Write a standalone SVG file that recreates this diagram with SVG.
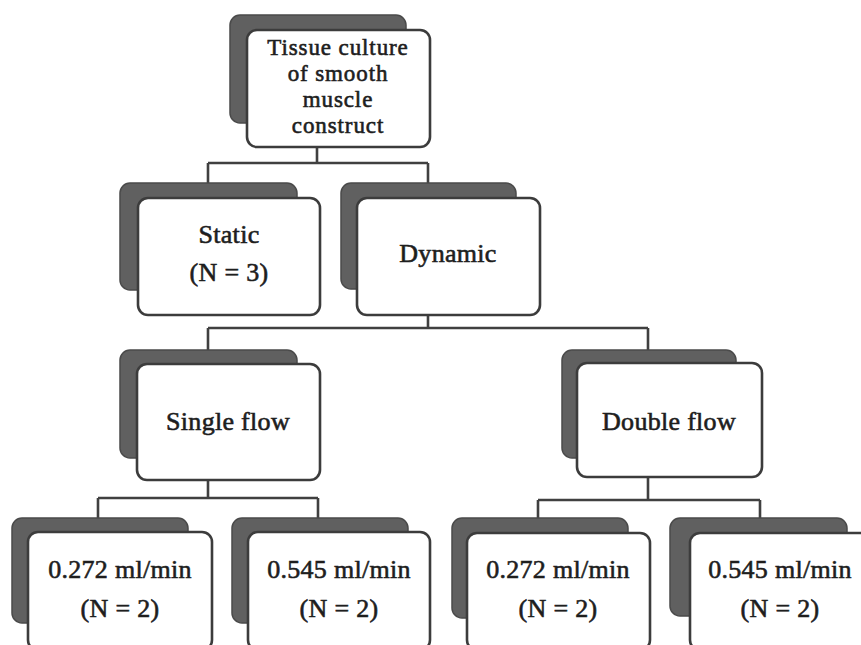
<svg xmlns="http://www.w3.org/2000/svg" width="861" height="645" viewBox="0 0 861 645">
<style>
.sh{fill:#606060;stroke:#4a4a4a;stroke-width:1.5}
.bx{fill:#ffffff;stroke:#3c3c3c;stroke-width:2.6}
.t{font-family:"Liberation Serif","Times New Roman",serif;font-size:26px;fill:#1e1e1e;stroke:#1e1e1e;stroke-width:0.6;text-anchor:middle;letter-spacing:0.3px}
.tt{font-size:23px;letter-spacing:0.9px}
.c{fill:none;stroke:#404040;stroke-width:2.6}
</style>
<rect width="861" height="645" fill="#ffffff"/>
<g id="connectors">
<path class="c" d="M317 147V163M208 163H428M208 163V184M428 163V184"/>
<path class="c" d="M428 315V328M208 328H648M208 328V351M648 328V351"/>
<path class="c" d="M208 480V498M98 498H318M98 498V519M318 498V519"/>
<path class="c" d="M648 477V500M538 500H760M538 500V519M760 500V519"/>
</g>
<g id="n-top">
<rect class="sh" x="230" y="15" width="176" height="108" rx="10"/>
<rect class="bx" x="247" y="30" width="183" height="117" rx="10"/>
<text class="t tt" x="338" y="55">Tissue culture</text>
<text class="t tt" x="338" y="81">of smooth</text>
<text class="t tt" x="338" y="107">muscle</text>
<text class="t tt" x="338" y="133">construct</text>
</g>
<g id="n-static">
<rect class="sh" x="120" y="183" width="177" height="107" rx="10"/>
<rect class="bx" x="138" y="198" width="182" height="117" rx="10"/>
<text class="t" x="229" y="243">Static</text>
<text class="t" x="229" y="281">(N = 3)</text>
</g>
<g id="n-dynamic">
<rect class="sh" x="341" y="183" width="175" height="106" rx="10"/>
<rect class="bx" x="357" y="198" width="183" height="117" rx="10"/>
<text class="t" x="448" y="262">Dynamic</text>
</g>
<g id="n-single">
<rect class="sh" x="120" y="350" width="177" height="108" rx="10"/>
<rect class="bx" x="137" y="364" width="183" height="116" rx="10"/>
<text class="t" x="228" y="430">Single flow</text>
</g>
<g id="n-double">
<rect class="sh" x="562" y="350" width="174" height="108" rx="10"/>
<rect class="bx" x="577" y="363" width="185" height="114" rx="10"/>
<text class="t" x="669" y="430">Double flow</text>
</g>
<g id="n-s1">
<rect class="sh" x="12" y="518" width="176" height="105" rx="10"/>
<rect class="bx" x="28" y="532" width="184" height="118" rx="10"/>
<text class="t" x="120" y="578">0.272 ml/min</text>
<text class="t" x="120" y="617">(N = 2)</text>
</g>
<g id="n-s2">
<rect class="sh" x="232" y="518" width="176" height="105" rx="10"/>
<rect class="bx" x="248" y="532" width="182" height="118" rx="10"/>
<text class="t" x="339" y="578">0.545 ml/min</text>
<text class="t" x="339" y="617">(N = 2)</text>
</g>
<g id="n-d1">
<rect class="sh" x="452" y="518" width="176" height="100" rx="10"/>
<rect class="bx" x="467" y="533" width="183" height="117" rx="10"/>
<text class="t" x="558" y="578">0.272 ml/min</text>
<text class="t" x="558" y="617">(N = 2)</text>
</g>
<g id="n-d2">
<rect class="sh" x="670" y="518" width="177" height="98" rx="10"/>
<rect class="bx" x="690" y="533" width="183" height="117" rx="10"/>
<text class="t" x="780" y="578">0.545 ml/min</text>
<text class="t" x="780" y="617">(N = 2)</text>
</g>
</svg>
